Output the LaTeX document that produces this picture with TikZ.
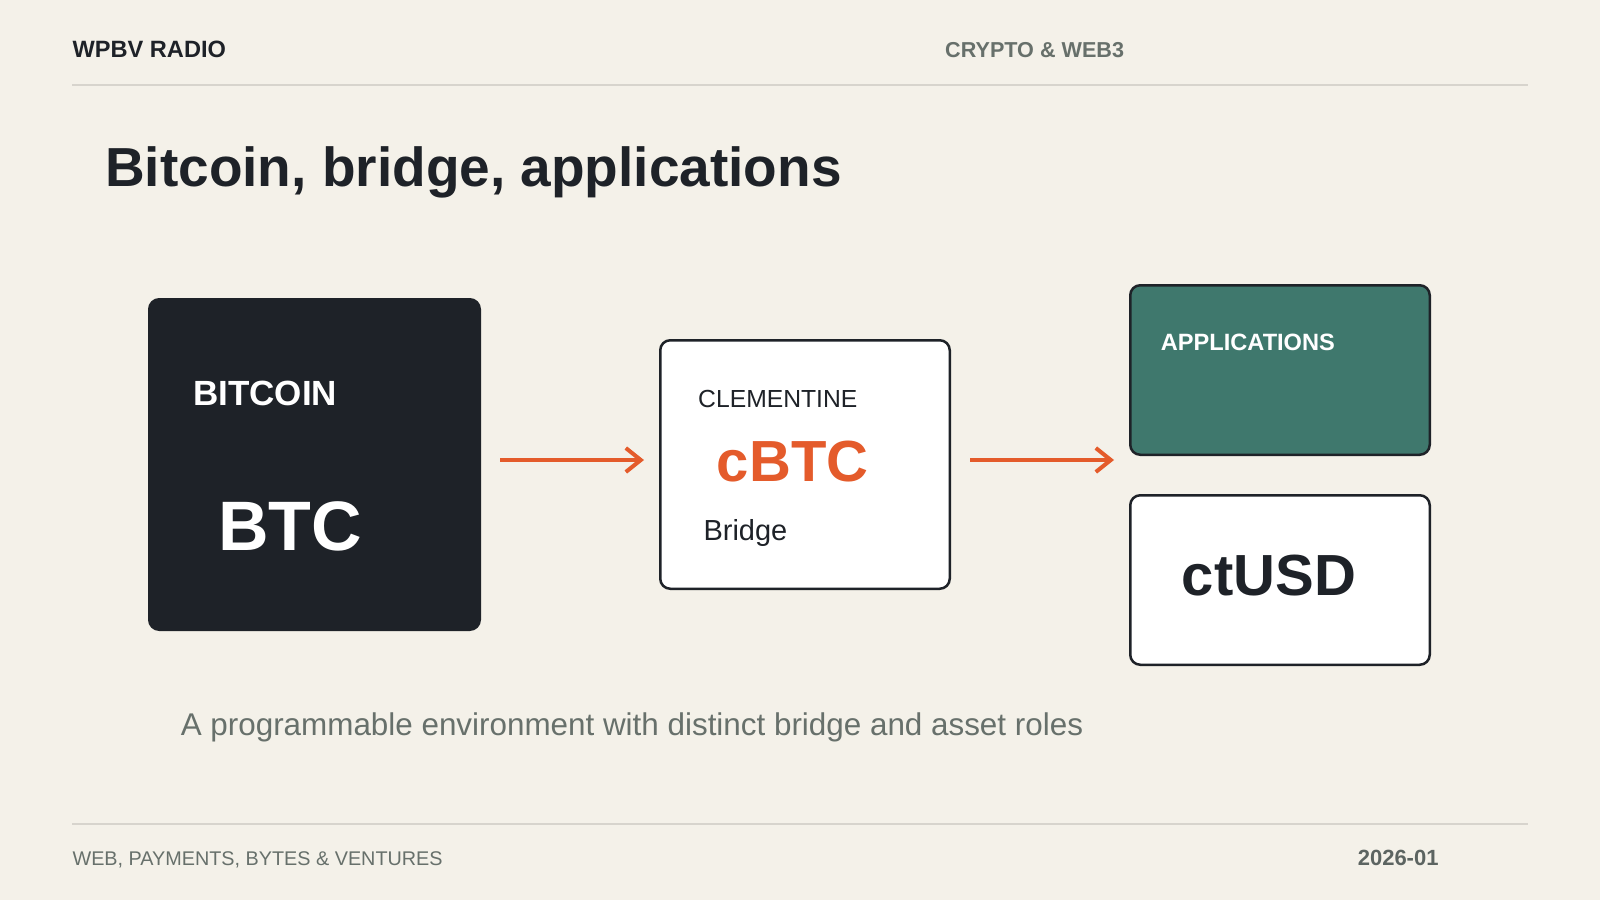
\documentclass[tikz,border=0pt]{standalone}
\usepackage{fontspec}
\setmainfont{Liberation Sans}
\usepackage{xcolor}
\usetikzlibrary{arrows.meta,positioning}
\definecolor{paper}{HTML}{F4F1E9}
\definecolor{ink}{HTML}{1E2228}
\definecolor{slate}{HTML}{67706B}
\definecolor{hairline}{HTML}{D7D4CD}
\definecolor{ember}{HTML}{E45B2B}
\definecolor{pine}{HTML}{3F786D}
\newcommand\Px[1]{\fontsize{#1}{#1}\selectfont}
\tikzset{
  card/.style={
    anchor = north west,
    draw = ink,
    line width = 2.5pt,
    rounded corners = 10pt,
    inner sep = 0pt
  },
}
\tikzset{
  tag/.style={
    anchor = base west,
    inner sep = 0pt
  },
  flow/.style={
    draw = ember,
    line width = 4pt,
    -{Straight Barb[length=15pt,width=24pt]}
  },
  hair/.style={
    draw = hairline,
    line width = 2pt
  }
}

\begin{document}
\begin{tikzpicture}[x=1pt,y=-1pt]
    \fill[paper] (0,0) rectangle (1600,900);
    \useasboundingbox (0,0) rectangle (1600,900);

    % header and footer
    \node[tag, text=ink, font=\bfseries\Px{23.6}] (brand) at (72.4,57.3) {WPBV RADIO};
    \node[tag, text=slate, font=\bfseries\Px{21.6}] (topic) at (945,57.3) {CRYPTO \& WEB3};
    \draw[hair] (72.4,84.7) -- (1527.6,84.7);
    \draw[hair] (72.4,823.5) -- (1527.6,823.5);
    \node[tag, text=slate, font=\Px{19.8}] (series) at (72.4,865) {WEB, PAYMENTS, BYTES \& VENTURES};
    \node[tag, text=slate!85!ink, font=\bfseries\Px{22}] (issue) at (1357.6,865) {2026-01};

    \node[tag, text=ink, font=\bfseries\Px{55}] (title) at (105,186.7) {Bitcoin, bridge, applications};

    % cards
    \node[card, fill=ink, minimum width=330.5pt, minimum height=330.5pt] (btc) at (148,298) {};
    \node[tag, text=white, font=\bfseries\Px{35}] at (193,405.7) {BITCOIN};
    \node[tag, text=white, font=\bfseries\Px{70}] at (218,550.7) {BTC};

    \node[card, fill=white, minimum width=289.5pt, minimum height=248.5pt] (bridge) at (659,339) {};
    \node[tag, text=ink, font=\Px{24.7}] at (698,407.3) {CLEMENTINE};
    \node[tag, text=ember, font=\bfseries\Px{58}] at (716.7,481) {cBTC};
    \node[tag, text=ink, font=\Px{29}] at (703.3,540) {Bridge};

    \node[card, fill=pine, minimum width=299.5pt, minimum height=169.5pt] (apps) at (1129,284) {};
    \node[tag, text=white, font=\bfseries\Px{23.6}] at (1160.7,350) {APPLICATIONS};

    \node[card, fill=white, minimum width=299.5pt, minimum height=169.5pt] (ctusd) at (1129,494) {};
    \node[tag, text=ink, font=\bfseries\Px{58}] at (1181.7,595.7) {ctUSD};

    \coordinate (lane) at (0,460);
    \coordinate (appsin) at (1129,460);

    % arrows
    \draw[flow, shorten <=19pt, shorten >=15pt] (btc.east |- lane) -- (bridge.west |- lane);
    \draw[flow, shorten <=19pt, shorten >=15pt] (bridge.east |- lane) -- (appsin);

    \node[tag, text=slate, font=\Px{31.4}] (caption) at (180.6,735.7) {A programmable environment with distinct bridge and asset roles};
\end{tikzpicture}
\end{document}
